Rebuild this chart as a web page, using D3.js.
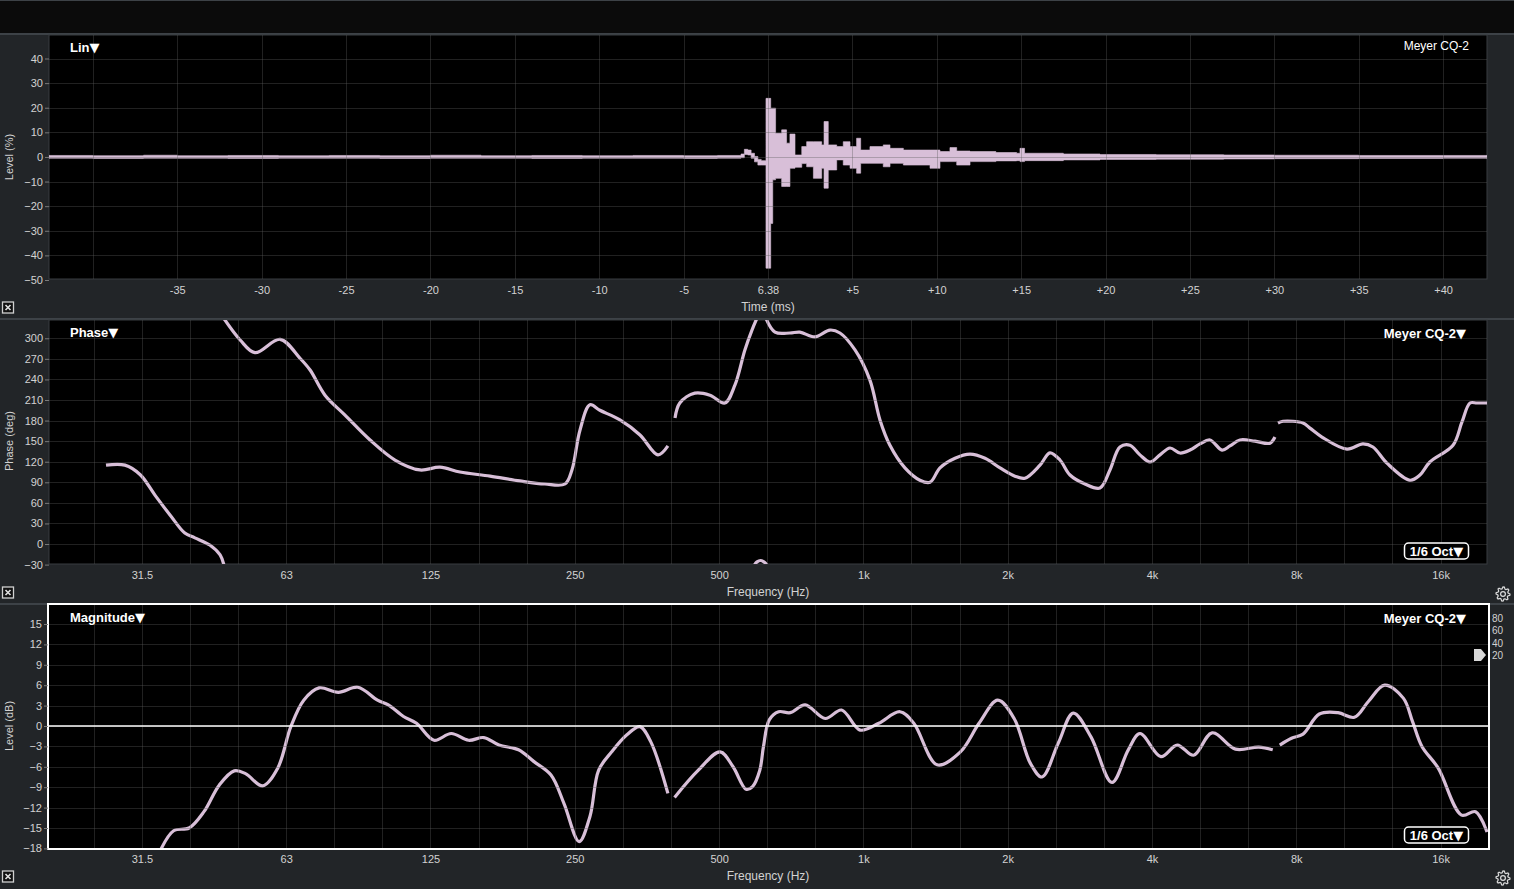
<!DOCTYPE html>
<html><head><meta charset="utf-8">
<script src="https://cdn.jsdelivr.net/npm/d3@7"></script>
<style>
html,body{margin:0;padding:0;background:#222528;overflow:hidden}
svg{display:block}
</style></head><body>
<svg id="c" width="1514" height="889"></svg>
<script>
// ---------- DATA ----------
const timeTicks = [-40,-35,-30,-25,-20,-15,-10,-5,0,5,10,15,20,25,30,35,40];
const timeTickLabels = ["","-35","-30","-25","-20","-15","-10","-5","6.38","+5","+10","+15","+20","+25","+30","+35","+40"];
const levelTicks = [-50,-40,-30,-20,-10,0,10,20,30,40];
const phaseTicks = [-30,0,30,60,90,120,150,180,210,240,270,300];
const magTicks = [-18,-15,-12,-9,-6,-3,0,3,6,9,12,15];
const freqTicks = [31.25,62.5,125,250,500,1000,2000,4000,8000,16000];
const freqTickLabels = ["31.5","63","125","250","500","1k","2k","4k","8k","16k"];
const sideTicks = ["80","60","40","20"];

// impulse envelope (relative ms, high %, low %)
const impulseTime = [-42.6,-40,-37,-35,-32,-29,-26,-23,-20,-17,-14,-11,-8,-5,-3,-1.6,-1.4,-1.2,-1.0,-0.8,-0.6,-0.4,-0.12,0.16,0.28,0.45,0.81,1.1,1.3,1.6,2.0,2.29,2.69,3.18,3.32,3.57,4.07,4.46,4.86,5.25,5.49,6.04,6.83,7.23,8.02,9.6,10.19,10.78,11.18,11.97,13.5,14.73,14.93,15.2,17.5,19.67,23,27,30,35,40,42.6];
const impulseHigh = [0.6,0.5,0.7,0.5,0.6,0.5,0.6,0.5,0.7,0.5,0.6,0.5,0.6,0.5,0.6,1.2,3.1,2.8,1.5,0.2,-1.0,-1.5,23.8,19.8,19.8,9.6,11.0,5.6,9.3,0.8,4.2,6.2,6.2,4.9,14.4,4.9,4.2,6.2,4.2,7.6,2.8,4.2,4.9,3.5,2.8,2.8,2.2,3.8,2.4,2.2,1.8,1.5,3.5,1.5,1.2,1.0,0.9,0.8,0.7,0.6,0.6,0.6];
const impulseLow = [-0.5,-0.6,-0.5,-0.5,-0.6,-0.5,-0.5,-0.6,-0.5,-0.5,-0.6,-0.5,-0.5,-0.6,-0.5,-0.3,1.0,0.8,-0.5,-2.0,-3.3,-3.3,-45.2,-27,-9.3,-8.7,-12.0,-12.0,-4.6,-4.2,-2.7,-4.0,-8.7,-4.6,-12.7,-5.3,-1.2,-3.3,-4.6,-6.6,-2.6,-2.6,-4.0,-2.6,-3.3,-4.6,-1.9,-1.9,-3.3,-1.9,-1.6,-1.5,-1.9,-1.5,-1.2,-1.0,-0.9,-0.8,-0.7,-0.6,-0.5,-0.5];

// phase segments [Hz, deg]
const phaseA = [[26.3,115],[28.8,115],[31.0,101],[33.3,71],[35.8,42],[38.4,16],[40.3,9],[43.3,-1.5],[45.5,-16],[46.4,-32]];
const phaseB = [[45.9,333],[50.1,297.5],[53.8,279],[60.7,298.5],[66.8,270.8],[70.1,253.7],[75.3,217],[82.9,188],[93.5,151.7],[105.4,122.5],[118.8,108],[130.8,112],[144,105],[166.4,99],[192,92],[216.6,87.5],[238.5,87.5],[246.6,108],[256.3,166],[268.9,203],[282,195],[310.6,181],[342,159],[372.8,130],[391,143]];
const phaseC = [[404.6,183.7],[414,205.6],[445,220],[478.6,217],[514,205.6],[539.7,232],[566,283],[585.6,312],[603,333]];
const phaseD = [[592,-31],[600,-26],[610,-24],[620,-26],[630,-31]];
const phaseE = [[622,334],[654,309],[702.8,307.7],[737,309],[792,302],[851.6,312],[893.6,307.7],[960.6,283],[1032,239],[1083,181],[1136,144],[1221,111],[1312,93],[1377,90],[1445,111],[1553,125],[1669,131],[1794,125],[1928,111],[2071,99],[2173,96],[2336,115],[2450,133],[2571,122.5],[2698,100.6],[2899,87.5],[3116,81.7],[3269,108],[3430,141.5],[3598,144],[3776,130],[3962,119.6],[4157,130],[4362,140],[4576,132.7],[4802,137],[5038,146],[5286,151.7],[5600,137],[5818,143],[6104,151.7],[6561,150],[7052,147],[7222,156]];
const phaseF = [[7327,176.5],[7506,179],[8262,176.5],[8544,169],[9050,156],[10204,138.5],[11022,146],[11562,141.5],[12366,118],[13814,93],[14492,100.6],[15202,119.6],[16986,144],[17736,178],[18434,205.6],[19056,205.6],[20000,205.6]];

// magnitude segments [Hz, dB]
const magA = [[34.2,-18.2],[36.4,-15.4],[39.2,-15.0],[42.1,-12.6],[45.3,-8.7],[48.7,-6.6],[51.4,-7.0],[55.8,-8.8],[60.0,-6.2],[63.9,-0.1],[68.0,3.8],[73.2,5.6],[80.3,4.95],[88.2,5.7],[96.9,3.8],[102.1,3.1],[109.8,1.4],[116.9,0.4],[127.1,-2.1],[138.1,-1.1],[150.1,-2.1],[161.5,-1.7],[173.7,-2.8],[190.8,-3.5],[205.2,-5.2],[223,-7.2],[237.4,-11.4],[255.3,-17.0],[268.9,-13.3],[280.4,-6.5],[298.5,-3.8],[321.1,-1.3],[341.8,-0.1],[360,-2.3],[391,-9.9]];
const magB = [[403.7,-10.5],[452.6,-6.5],[502.4,-3.8],[534.7,-6.0],[569.2,-9.3],[587.3,-8.9],[608,-6.5],[618.9,-3.0],[636.3,0.9],[665.4,2.1],[703.9,1.96],[756.1,3.1],[832.7,1.1],[900.5,2.35],[984.7,-0.6],[1077,0.4],[1192,2.1],[1274,0.4],[1425,-5.7],[1594,-3.8],[1743,0.4],[1907,3.8],[2063,1.1],[2231,-5.5],[2359,-7.5],[2551,-2.5],[2741,1.9],[2984,-1.6],[3301,-8.3],[3570,-3.5],[3776,-1.1],[4175,-4.5],[4517,-2.8],[4885,-4.3],[5341,-1.0],[5974,-3.4],[6681,-3.1],[7146,-3.5]];
const magC = [[7391,-2.8],[7818,-1.8],[8265,-1.2],[8938,1.76],[9779,1.96],[10576,1.28],[11311,3.6],[12232,6.0],[13380,4.1],[13993,0.6],[14632,-3.0],[15823,-6.2],[17696,-13.1],[18930,-12.6],[20000,-15.6]];

// ---------- STYLE / LAYOUT ----------
const W = 1514, H = 889;
const FONT = '"Liberation Sans", Arial, Helvetica, sans-serif';
const TRI_FONT = '"DejaVu Sans", sans-serif';
const BG = "#222528", TRACE = "#d8bfd8", SEP = "#3d4247";
const GRID = "#5c5c5c", GRID_OP = 0.36, LABEL = "#d2d2d2";
const P1 = {x0:49, x1:1487, y0:35, y1:279};
const P2 = {x0:49, x1:1487, y0:320, y1:564};
const P3 = {x0:49, x1:1488, y0:605, y1:848};

const svg = d3.select("#c").attr("font-family", FONT);
svg.append("rect").attr("width", W).attr("height", H).attr("fill", BG);
svg.append("rect").attr("width", W).attr("height", 33).attr("fill", "#0b0b0b");
svg.append("rect").attr("width", W).attr("height", 1).attr("fill", SEP);
[33, 318, 603].forEach(y => svg.append("rect").attr("x", 0).attr("y", y).attr("width", W).attr("height", 2).attr("fill", SEP));

const defs = svg.append("defs");
function clip(id, p) {
  defs.append("clipPath").attr("id", id).append("rect")
    .attr("x", p.x0).attr("y", p.y0).attr("width", p.x1 - p.x0).attr("height", p.y1 - p.y0);
  return "url(#" + id + ")";
}
function plotBg(p) {
  svg.append("rect").attr("x", p.x0).attr("y", p.y0).attr("width", p.x1 - p.x0).attr("height", p.y1 - p.y0)
    .attr("fill", "#000").attr("stroke", "#383c40").attr("stroke-width", 1);
}
function styleAxis(g) {
  g.attr("font-family", FONT).attr("font-size", 11);
  g.select(".domain").remove();
  g.selectAll("text").attr("fill", LABEL);
  g.selectAll("line").attr("stroke", "#7a7a7a");
}
function grid(p, clipUrl, xs, ys) {
  const g = svg.append("g").attr("clip-path", clipUrl).attr("stroke", GRID).attr("stroke-opacity", GRID_OP).attr("stroke-width", 1);
  g.selectAll(".v").data(xs).enter().append("line")
    .attr("x1", d => Math.round(d) + 0.5).attr("x2", d => Math.round(d) + 0.5).attr("y1", p.y0).attr("y2", p.y1);
  g.selectAll(".h").data(ys).enter().append("line")
    .attr("y1", d => Math.round(d) + 0.5).attr("y2", d => Math.round(d) + 0.5).attr("x1", p.x0).attr("x2", p.x1);
}
function yTitle(text, y) {
  svg.append("text").attr("transform", `translate(13,${y}) rotate(-90)`).attr("text-anchor", "middle")
    .attr("fill", LABEL).attr("font-size", 11).text(text);
}
function xTitle(text, y) {
  svg.append("text").attr("x", 768).attr("y", y).attr("text-anchor", "middle")
    .attr("fill", LABEL).attr("font-size", 12).text(text);
}
function title(text, x, y, anchor, bold, size, tri) {
  const t = svg.append("text").attr("x", x).attr("y", y).attr("text-anchor", anchor || "start")
    .attr("fill", "#fff").attr("font-weight", bold ? "bold" : "normal").attr("font-size", size || 13);
  t.append("tspan").text(text);
  if (tri) t.append("tspan").attr("font-family", TRI_FONT).attr("font-weight", "normal").attr("font-size", 13).text("\u25BC");
}
function octBox(y) {
  svg.append("rect").attr("x", 1404.5).attr("y", y).attr("width", 64).attr("height", 16).attr("rx", 4)
    .attr("fill", "#000").attr("stroke", "#fff").attr("stroke-width", 1.5);
  title("1/6 Oct", 1436.5, y + 13, "middle", true, 13, true);
}
function closeIcon(y) {
  const g = svg.append("g").attr("transform", `translate(2.5,${y})`);
  g.append("rect").attr("width", 11).attr("height", 11).attr("fill", "#111").attr("stroke", "#d0d0d0").attr("stroke-width", 1.3);
  g.append("path").attr("d", "M3,3L8,8M8,3L3,8").attr("stroke", "#e0e0e0").attr("stroke-width", 1.6);
}
function gear(cx, cy) {
  const teeth = 8, ro = 7, ri = 5.2;
  let d = "";
  for (let i = 0; i < teeth * 4; i++) {
    const a = (i / (teeth * 4)) * Math.PI * 2;
    const r = (i % 4 === 0 || i % 4 === 1) ? ro : ri;
    d += (i === 0 ? "M" : "L") + (cx + r * Math.cos(a)).toFixed(2) + "," + (cy + r * Math.sin(a)).toFixed(2);
  }
  d += "Z";
  svg.append("path").attr("d", d).attr("fill", "none").attr("stroke", "#dcdcdc").attr("stroke-width", 1.2);
  svg.append("circle").attr("cx", cx).attr("cy", cy).attr("r", 2.4).attr("fill", "none").attr("stroke", "#dcdcdc").attr("stroke-width", 1.2);
}

// ---------- PANEL 1: impulse ----------
const xT = d3.scaleLinear().domain([-42.6, 42.6]).range([P1.x0, P1.x1]);
const yL = d3.scaleLinear().domain([-50, 40]).range([280, 58.5]);
plotBg(P1);
const c1 = clip("c1", P1);
const impulse = impulseTime.map((t, i) => ({t, hi: impulseHigh[i], lo: impulseLow[i]}));
svg.append("path").attr("clip-path", c1).datum(impulse)
  .attr("d", d3.area().x(d => xT(d.t)).y0(d => yL(d.lo)).y1(d => yL(d.hi)).curve(d3.curveStepAfter))
  .attr("fill", TRACE).attr("stroke", TRACE).attr("stroke-width", 0.6);
grid(P1, c1, timeTicks.map(xT), levelTicks.map(yL));
svg.append("g").attr("transform", `translate(${P1.x0},0)`)
  .call(d3.axisLeft(yL).tickValues(levelTicks).tickSize(4).tickPadding(2)).call(styleAxis);
svg.append("g").attr("transform", `translate(0,${P1.y1})`)
  .call(d3.axisBottom(xT).tickValues(timeTicks).tickSize(0).tickPadding(7).tickFormat((d, i) => timeTickLabels[i])).call(styleAxis);
yTitle("Level (%)", 157);
xTitle("Time (ms)", 311);
title("Lin", 70, 52, "start", true, 13, true);
title("Meyer CQ-2", 1469, 50, "end", false, 12, false);
closeIcon(302);

// ---------- PANEL 2: phase ----------
const xF = d3.scaleLog().domain([20, 20000]).range([49, 1487]);
const thirdOct = d3.range(-16, 13).map(n => 1000 * Math.pow(2, n / 3));
const yP = d3.scaleLinear().domain([-30, 330]).range([564.6, 317.7]);
plotBg(P2);
const c2 = clip("c2", P2);
const lineP = d3.line().x(d => xF(d[0])).y(d => yP(d[1])).curve(d3.curveCatmullRom.alpha(0.5));
[phaseA, phaseB, phaseC, phaseD, phaseE, phaseF].forEach(seg => {
  svg.append("path").attr("clip-path", c2).datum(seg).attr("d", lineP)
    .attr("fill", "none").attr("stroke", TRACE).attr("stroke-width", 3.2);
});
grid(P2, c2, thirdOct.map(xF), phaseTicks.map(yP));
svg.append("g").attr("transform", `translate(${P2.x0},0)`)
  .call(d3.axisLeft(yP).tickValues(phaseTicks).tickSize(4).tickPadding(2)).call(styleAxis);
svg.append("g").attr("transform", `translate(0,${P2.y1})`)
  .call(d3.axisBottom(xF).tickValues(freqTicks).tickSize(0).tickPadding(7).tickFormat((d, i) => freqTickLabels[i])).call(styleAxis);
yTitle("Phase (deg)", 441);
xTitle("Frequency (Hz)", 596);
title("Phase", 70, 337, "start", true, 13, true);
title("Meyer CQ-2", 1466, 338, "end", true, 13, true);
octBox(543);
closeIcon(587);
gear(1503, 594);

// ---------- PANEL 3: magnitude ----------
const yM = d3.scaleLinear().domain([-18, 18]).range([848.4, 603.6]);
svg.append("rect").attr("x", P3.x0).attr("y", P3.y0).attr("width", P3.x1 - P3.x0).attr("height", P3.y1 - P3.y0).attr("fill", "#000");
const c3 = clip("c3", P3);
const lineM = d3.line().x(d => xF(d[0])).y(d => yM(d[1])).curve(d3.curveCatmullRom.alpha(0.5));
[magA, magB, magC].forEach(seg => {
  svg.append("path").attr("clip-path", c3).datum(seg).attr("d", lineM)
    .attr("fill", "none").attr("stroke", TRACE).attr("stroke-width", 3.2);
});
grid(P3, c3, thirdOct.map(xF), magTicks.map(yM));
svg.append("line").attr("x1", P3.x0).attr("x2", P3.x1).attr("y1", yM(0)).attr("y2", yM(0))
  .attr("stroke", "#fff").attr("stroke-width", 1.5);
svg.append("rect").attr("x", P3.x0 - 1).attr("y", P3.y0 - 1).attr("width", P3.x1 - P3.x0 + 2).attr("height", P3.y1 - P3.y0 + 2)
  .attr("fill", "none").attr("stroke", "#fff").attr("stroke-width", 2);
svg.append("g").attr("transform", `translate(${P3.x0 - 1},0)`)
  .call(d3.axisLeft(yM).tickValues(magTicks).tickSize(4).tickPadding(2)).call(styleAxis);
svg.append("g").attr("transform", `translate(0,${P3.y1})`)
  .call(d3.axisBottom(xF).tickValues(freqTicks).tickSize(0).tickPadding(7).tickFormat((d, i) => freqTickLabels[i])).call(styleAxis);
yTitle("Level (dB)", 726);
xTitle("Frequency (Hz)", 880);
title("Magnitude", 70, 622, "start", true, 13, true);
title("Meyer CQ-2", 1466, 623, "end", true, 13, true);
octBox(827);
closeIcon(871);
gear(1503, 878);
sideTicks.forEach((t, i) => {
  svg.append("text").attr("x", 1492).attr("y", 622 + i * 12.3).attr("fill", LABEL).attr("font-size", 10).text(t);
});
svg.append("path").attr("d", "M1474,649L1481,649L1486,655L1481,661L1474,661Z").attr("fill", "#d8d8d8");
</script>
</body></html>
